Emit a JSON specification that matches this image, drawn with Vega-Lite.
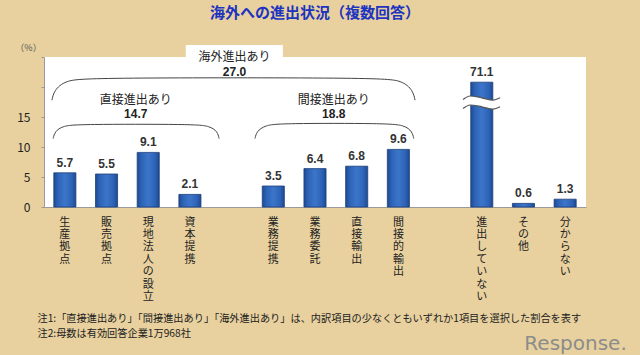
{
  "$schema": "https://vega.github.io/schema/vega-lite/v6.json",
  "width": 542,
  "height": 150,
  "autosize": {"type": "none"},
  "padding": {"left": 44, "top": 57, "right": 54, "bottom": 148},
  "background": "#e8d19e",
  "view": {"fill": "white", "stroke": null},
  "config": {"font": "Noto Sans CJK JP"},
  "title": {
    "text": "海外への進出状況（複数回答）",
    "font": "Noto Sans CJK JP",
    "fontSize": 15,
    "fontWeight": "bold",
    "color": "#1c34c0",
    "anchor": "middle",
    "offset": 22
  },
  "datasets": {
    "bars": [
      {"item": "生産拠点", "value": 5.7},
      {"item": "販売拠点", "value": 5.5},
      {"item": "現地法人の設立", "value": 9.1},
      {"item": "資本提携", "value": 2.1},
      {"item": "業務提携", "value": 3.5},
      {"item": "業務委託", "value": 6.4},
      {"item": "直接輸出", "value": 6.8},
      {"item": "間接的輸出", "value": 9.6},
      {"item": "進出していない", "value": 71.1},
      {"item": "その他", "value": 0.6},
      {"item": "分からない", "value": 1.3}
    ],
    "brackets": [
      {"grp": "direct", "i": 1, "px": 0.22, "py": 11.4},
      {"grp": "direct", "i": 2, "px": 0.26, "py": 12.6},
      {"grp": "direct", "i": 3, "px": 0.45, "py": 13.5},
      {"grp": "direct", "i": 4, "px": 0.8, "py": 13.8},
      {"grp": "direct", "i": 5, "px": 3.6, "py": 13.8},
      {"grp": "direct", "i": 6, "px": 3.97, "py": 13.5},
      {"grp": "direct", "i": 7, "px": 4.16, "py": 12.6},
      {"grp": "direct", "i": 8, "px": 4.2, "py": 11.4},
      {"grp": "indirect", "i": 1, "px": 5.06, "py": 11.4},
      {"grp": "indirect", "i": 2, "px": 5.1, "py": 12.6},
      {"grp": "indirect", "i": 3, "px": 5.3, "py": 13.6},
      {"grp": "indirect", "i": 4, "px": 5.65, "py": 13.95},
      {"grp": "indirect", "i": 5, "px": 8.25, "py": 13.95},
      {"grp": "indirect", "i": 6, "px": 8.65, "py": 13.6},
      {"grp": "indirect", "i": 7, "px": 8.83, "py": 12.6},
      {"grp": "indirect", "i": 8, "px": 8.87, "py": 11.4},
      {"grp": "overseas", "i": 1, "px": 0.19, "py": 17.8},
      {"grp": "overseas", "i": 2, "px": 0.24, "py": 19.4},
      {"grp": "overseas", "i": 3, "px": 0.5, "py": 21.1},
      {"grp": "overseas", "i": 4, "px": 1.1, "py": 21.55},
      {"grp": "overseas", "i": 5, "px": 8.0, "py": 21.55},
      {"grp": "overseas", "i": 6, "px": 8.6, "py": 21.1},
      {"grp": "overseas", "i": 7, "px": 8.85, "py": 19.4},
      {"grp": "overseas", "i": 8, "px": 8.9, "py": 17.8}
    ],
    "labels": [
      {"px": 4.57, "py": 25.0, "text": "海外進出あり", "kind": "name"},
      {"px": 4.57, "py": 22.5, "text": "27.0", "kind": "num"},
      {"px": 2.2, "py": 17.8, "text": "直接進出あり", "kind": "name"},
      {"px": 2.2, "py": 15.5, "text": "14.7", "kind": "num"},
      {"px": 6.95, "py": 17.8, "text": "間接進出あり", "kind": "name"},
      {"px": 6.95, "py": 15.5, "text": "18.8", "kind": "num"}
    ],
    "box": [{"x1": 3.4, "x2": 5.73, "y1": 25.0, "y2": 27.0}],
    "wave": [
      {"px": 10.05, "up": 17.9, "lo": 16.4},
      {"px": 10.22, "up": 18.5, "lo": 17.0},
      {"px": 10.5, "up": 18.2, "lo": 16.7},
      {"px": 10.77, "up": 17.8, "lo": 16.3},
      {"px": 10.94, "up": 18.2, "lo": 16.7}
    ],
    "logo": [{"px": 12.75, "py": -22.9, "text": "Response."}]
  },
  "layer": [
    {
      "data": {"name": "bars"},
      "transform": [{"calculate": "min(datum.value, 20.8)", "as": "shown"}],
      "encoding": {
        "x": {
          "field": "item",
          "type": "nominal",
          "sort": null,
          "scale": {
            "domain": ["生産拠点", "販売拠点", "現地法人の設立", "資本提携", " ", "業務提携", "業務委託", "直接輸出", "間接的輸出", "  ", "進出していない", "その他", "分からない"],
            "paddingInner": 0.47,
            "paddingOuter": 0.235
          },
          "axis": {
            "labelAngle": 0,
            "labelExpr": "split(datum.label, '')",
            "labelBaseline": "top",
            "labelFontSize": 11,
            "labelLineHeight": 12.4,
            "labelPadding": 9,
            "labelColor": "#222",
            "labelOverlap": false,
            "ticks": false,
            "domainColor": "#9a9a9a",
            "title": ["注1:「直接進出あり」「間接進出あり」「海外進出あり」は、内訳項目の少なくともいずれか1項目を選択した割合を表す", "注2:母数は有効回答企業1万968社"],
            "titleFont": "Noto Sans CJK JP",
            "titleFontSize": 10.2,
            "titleFontWeight": "normal",
            "titleColor": "#222",
            "titleAnchor": "start",
            "titleAlign": "left",
            "titleBaseline": "top",
            "titleX": -7,
            "titleY": 106,
            "titleLineHeight": 15,
            "titleLimit": 1000
          }
        },
        "y": {
          "field": "shown",
          "type": "quantitative",
          "scale": {"domain": [0, 25], "nice": false},
          "axis": {
            "values": [0, 5, 10, 15, 20, 25],
            "labelExpr": "datum.value <= 15 ? datum.label : ''",
            "labelOverlap": false,
            "grid": false,
            "tickSize": 3,
            "tickColor": "#9a9a9a",
            "domainColor": "#9a9a9a",
            "labelFontSize": 12,
            "labelColor": "#222",
            "labelPadding": 11,
            "title": "（%）",
            "titleAngle": 0,
            "titleFontSize": 9,
            "titleFontWeight": "normal",
            "titleColor": "#555",
            "titleX": -16,
            "titleY": -10,
            "titleAlign": "center",
            "titleBaseline": "middle"
          }
        }
      },
      "layer": [
        {
          "mark": {
            "type": "bar",
            "color": {
              "gradient": "linear",
              "x1": 0, "y1": 0, "x2": 1, "y2": 0,
              "stops": [
                {"offset": 0, "color": "#1d4a92"},
                {"offset": 0.2, "color": "#2e64b8"},
                {"offset": 0.5, "color": "#3b75c9"},
                {"offset": 0.8, "color": "#2e64b8"},
                {"offset": 1, "color": "#1d4a92"}
              ]
            },
            "stroke": "#1e3f78",
            "strokeWidth": 0.8
          }
        },
        {
          "mark": {"type": "text", "dy": -6, "baseline": "alphabetic", "font": "Liberation Sans", "fontWeight": "bold", "fontSize": 12, "color": "#333"},
          "encoding": {"text": {"field": "value", "type": "quantitative", "format": ".1f"}}
        }
      ]
    },
    {
      "data": {"name": "box"},
      "mark": {"type": "rect", "fill": "white", "clip": false},
      "encoding": {
        "x": {"field": "x1", "type": "quantitative", "scale": {"domain": [0, 13], "nice": false, "zero": false}, "axis": null},
        "x2": {"field": "x2"},
        "y": {"field": "y1", "type": "quantitative", "scale": {"domain": [0, 25], "nice": false}, "axis": null},
        "y2": {"field": "y2"}
      }
    },
    {
      "data": {"name": "brackets"},
      "mark": {"type": "line", "interpolate": "basis", "color": "#444", "strokeWidth": 1, "clip": false},
      "encoding": {
        "x": {"field": "px", "type": "quantitative", "scale": {"domain": [0, 13], "nice": false, "zero": false}, "axis": null},
        "y": {"field": "py", "type": "quantitative", "scale": {"domain": [0, 25], "nice": false}, "axis": null},
        "detail": {"field": "grp"},
        "order": {"field": "i"}
      }
    },
    {
      "data": {"name": "labels"},
      "transform": [{"filter": "datum.kind == 'name'"}],
      "mark": {"type": "text", "fontSize": 12, "color": "#222", "font": "Noto Sans CJK JP", "baseline": "middle"},
      "encoding": {
        "x": {"field": "px", "type": "quantitative", "scale": {"domain": [0, 13], "nice": false, "zero": false}, "axis": null},
        "y": {"field": "py", "type": "quantitative", "scale": {"domain": [0, 25], "nice": false}, "axis": null},
        "text": {"field": "text"}
      }
    },
    {
      "data": {"name": "labels"},
      "transform": [{"filter": "datum.kind == 'num'"}],
      "mark": {"type": "text", "fontSize": 12, "fontWeight": "bold", "color": "#222", "font": "Liberation Sans", "baseline": "middle"},
      "encoding": {
        "x": {"field": "px", "type": "quantitative", "scale": {"domain": [0, 13], "nice": false, "zero": false}, "axis": null},
        "y": {"field": "py", "type": "quantitative", "scale": {"domain": [0, 25], "nice": false}, "axis": null},
        "text": {"field": "text"}
      }
    },
    {
      "data": {"name": "wave"},
      "mark": {"type": "area", "interpolate": "monotone", "fill": "white", "clip": false},
      "encoding": {
        "x": {"field": "px", "type": "quantitative", "scale": {"domain": [0, 13], "nice": false, "zero": false}, "axis": null},
        "y": {"field": "up", "type": "quantitative", "scale": {"domain": [0, 25], "nice": false}, "axis": null},
        "y2": {"field": "lo"}
      }
    },
    {
      "data": {"name": "wave"},
      "mark": {"type": "line", "interpolate": "monotone", "color": "#555", "strokeWidth": 1.2, "clip": false},
      "encoding": {
        "x": {"field": "px", "type": "quantitative", "scale": {"domain": [0, 13], "nice": false, "zero": false}, "axis": null},
        "y": {"field": "up", "type": "quantitative", "scale": {"domain": [0, 25], "nice": false}, "axis": null}
      }
    },
    {
      "data": {"name": "wave"},
      "mark": {"type": "line", "interpolate": "monotone", "color": "#555", "strokeWidth": 1.2, "clip": false},
      "encoding": {
        "x": {"field": "px", "type": "quantitative", "scale": {"domain": [0, 13], "nice": false, "zero": false}, "axis": null},
        "y": {"field": "lo", "type": "quantitative", "scale": {"domain": [0, 25], "nice": false}, "axis": null}
      }
    },
    {
      "data": {"name": "logo"},
      "mark": {"type": "text", "fontSize": 20, "color": "#8c8c8c", "font": "DejaVu Sans", "baseline": "middle", "clip": false},
      "encoding": {
        "x": {"field": "px", "type": "quantitative", "scale": {"domain": [0, 13], "nice": false, "zero": false}, "axis": null},
        "y": {"field": "py", "type": "quantitative", "scale": {"domain": [0, 25], "nice": false}, "axis": null},
        "text": {"field": "text"}
      }
    }
  ],
  "resolve": {"scale": {"x": "independent"}, "axis": {"y": "independent"}}
}
